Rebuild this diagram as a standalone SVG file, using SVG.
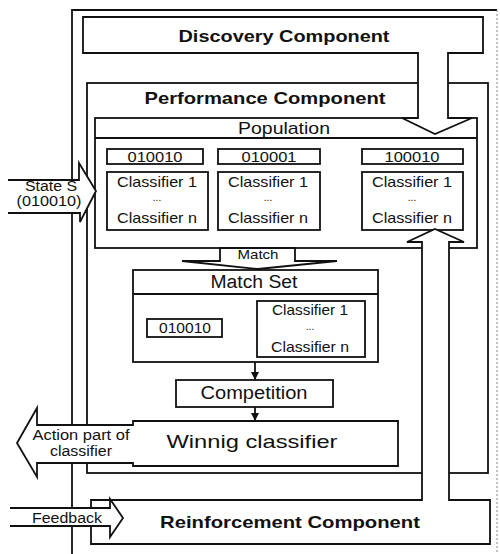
<svg xmlns="http://www.w3.org/2000/svg" width="500" height="554" viewBox="0 0 500 554">
<defs>
<marker id="ah" viewBox="0 0 10 10" refX="10" refY="5" markerWidth="8" markerHeight="8" markerUnits="userSpaceOnUse" orient="auto">
<path d="M0,0 L10,5 L0,10 Z" fill="#111"/>
</marker>
</defs>
<style>
.bx{fill:#fff;stroke:#111;stroke-width:1.8}
.ln{fill:none;stroke:#111;stroke-width:1.8}
.t{font-family:"Liberation Sans",Arial,sans-serif;fill:#111;text-anchor:middle}
.b{font-weight:bold}
</style>
<rect width="500" height="554" fill="#fff"/>
<g id="frame">
<path d="M72,554 V10 H497" class="ln" stroke-width="2"/>
<path d="M497,10 V554" fill="none" stroke="#888" stroke-width="1" stroke-dasharray="2,2"/>
</g>
<g id="performance">
<rect x="87" y="83" width="401" height="390" class="bx"/>
<text x="265" y="104" class="t b" font-size="17" textLength="241" lengthAdjust="spacingAndGlyphs">Performance Component</text>
</g>
<g id="population">
<rect x="95" y="118" width="382" height="130" class="bx"/>
<line x1="95" y1="138" x2="477" y2="138" class="ln"/>
<text x="284" y="134" class="t" font-size="17" textLength="92" lengthAdjust="spacingAndGlyphs">Population</text>
<rect x="107" y="149" width="96" height="15" class="bx"/>
<text x="155" y="162" class="t" font-size="14" textLength="55" lengthAdjust="spacingAndGlyphs">010010</text>
<rect x="218" y="149" width="102" height="15" class="bx"/>
<text x="269" y="162" class="t" font-size="14" textLength="55" lengthAdjust="spacingAndGlyphs">010001</text>
<rect x="362" y="149" width="101" height="15" class="bx"/>
<text x="412" y="162" class="t" font-size="14" textLength="55" lengthAdjust="spacingAndGlyphs">100010</text>
<rect x="107" y="172" width="101" height="58" class="bx"/>
<text x="157" y="187" class="t" font-size="15" textLength="80" lengthAdjust="spacingAndGlyphs">Classifier 1</text>
<text x="157" y="201" class="t" font-size="10">...</text>
<text x="157" y="223" class="t" font-size="15" textLength="80" lengthAdjust="spacingAndGlyphs">Classifier n</text>
<rect x="218" y="172" width="102" height="58" class="bx"/>
<text x="268" y="187" class="t" font-size="15" textLength="80" lengthAdjust="spacingAndGlyphs">Classifier 1</text>
<text x="268" y="201" class="t" font-size="10">...</text>
<text x="268" y="223" class="t" font-size="15" textLength="80" lengthAdjust="spacingAndGlyphs">Classifier n</text>
<rect x="362" y="172" width="101" height="58" class="bx"/>
<text x="412" y="187" class="t" font-size="15" textLength="80" lengthAdjust="spacingAndGlyphs">Classifier 1</text>
<text x="412" y="201" class="t" font-size="10">...</text>
<text x="412" y="223" class="t" font-size="15" textLength="80" lengthAdjust="spacingAndGlyphs">Classifier n</text>
</g>
<g id="discovery">
<path d="M83,17 H483 V53 H448 V118 H472 L435,134 L402,118 H418 V53 H83 Z" class="bx"/>
<text x="284" y="42" class="t b" font-size="17" textLength="211" lengthAdjust="spacingAndGlyphs">Discovery Component</text>
</g>
<g id="match">
<path d="M220,248 V261 H182 L258,269 L337,261 H295 V248 Z" class="bx"/>
<text x="258" y="259" class="t" font-size="13" textLength="41" lengthAdjust="spacingAndGlyphs">Match</text>
</g>
<g id="matchset">
<rect x="133" y="270" width="245" height="92" class="bx"/>
<line x1="133" y1="294" x2="378" y2="294" class="ln"/>
<text x="254" y="288" class="t" font-size="18" textLength="87" lengthAdjust="spacingAndGlyphs">Match Set</text>
<rect x="147" y="319" width="75" height="18" class="bx"/>
<text x="185" y="333" class="t" font-size="14" textLength="52" lengthAdjust="spacingAndGlyphs">010010</text>
<rect x="257" y="301" width="108" height="56" class="bx"/>
<text x="310" y="315" class="t" font-size="15" textLength="76" lengthAdjust="spacingAndGlyphs">Classifier 1</text>
<text x="310" y="330" class="t" font-size="10">...</text>
<text x="310" y="352" class="t" font-size="15" textLength="78" lengthAdjust="spacingAndGlyphs">Classifier n</text>
</g>
<g id="competition">
<rect x="176" y="380" width="157" height="27" class="bx"/>
<text x="254" y="399" class="t" font-size="18" textLength="107" lengthAdjust="spacingAndGlyphs">Competition</text>
</g>
<g id="winning">
<path d="M133,421 H398 V466 H133 V463 H37 V477 L17,443 L37,408 V425 H133 Z" class="bx"/>
<text x="252" y="448" class="t" font-size="19" textLength="171" lengthAdjust="spacingAndGlyphs">Winnig classifier</text>
<text x="81" y="440" class="t" font-size="14" textLength="97" lengthAdjust="spacingAndGlyphs">Action part of</text>
<text x="81" y="456" class="t" font-size="14" textLength="62" lengthAdjust="spacingAndGlyphs">classifier</text>
</g>
<g id="reinforcement">
<path d="M91,500 H422 V242 H407 L435,229 L464,242 H449 V500 H490 V544 H91 Z" class="bx"/>
<text x="290" y="528" class="t b" font-size="17" textLength="260" lengthAdjust="spacingAndGlyphs">Reinforcement Component</text>
</g>
<g id="feedback">
<path d="M10,508 H110 V499 L123,518 L110,537 V526 H10" class="bx"/>
<text x="67" y="523" class="t" font-size="14" textLength="70" lengthAdjust="spacingAndGlyphs">Feedback</text>
</g>
<g id="state">
<path d="M8,180 H79 V163 L96,191 L80,222 V213 H8" class="bx"/>
<text x="51" y="191" class="t" font-size="14" textLength="52" lengthAdjust="spacingAndGlyphs">State S</text>
<text x="49" y="206" class="t" font-size="14" textLength="65" lengthAdjust="spacingAndGlyphs">(010010)</text>
</g>
<g id="connectors">
<line x1="255" y1="362" x2="255" y2="380" class="ln" marker-end="url(#ah)"/>
<line x1="255" y1="407" x2="255" y2="421" class="ln" marker-end="url(#ah)"/>
</g>
</svg>
